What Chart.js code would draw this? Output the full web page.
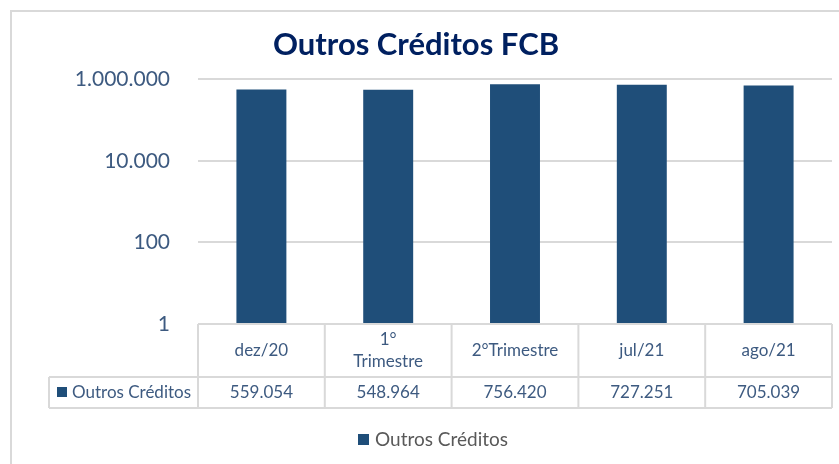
<!DOCTYPE html>
<html>
<head>
<meta charset="utf-8">
<script src="https://cdn.jsdelivr.net/npm/chart.js@4"></script>
<style>
  html, body { margin: 0; padding: 0; background: #fff; overflow: hidden; }
  #wrap { width: 839px; height: 464px; }
</style>
</head>
<body>
<div id="wrap"><canvas id="grafico" width="839" height="464"></canvas></div>
<script>
// dados do gráfico
const categorias = ["dez/20", ["1°", "Trimestre"], "2°Trimestre", "jul/21", "ago/21"];
const valores = [559054, 548964, 756420, 727251, 705039];
const ticksY = [1, 100, 10000, 1000000];
const nomeSerie = "Outros Créditos";

const corBarra = "#1f4e79";
const corTexto = "#3d5a80";
const corLinha = "#d9d9d9";
const fonte = "Lato";

// formata número no padrão brasileiro (1.000.000)
function formatar(n) {
    return String(Math.round(n)).replace(/\B(?=(\d{3})+(?!\d))/g, ".");
}

// desenha a moldura, a tabela de dados e a legenda
const tabelaPlugin = {
    id: "tabela",
    beforeDraw(chart) {
        const ctx = chart.ctx;
        ctx.save();
        ctx.strokeStyle = corLinha;
        ctx.lineWidth = 2;
        ctx.strokeRect(11, 11, 900, 500);
        ctx.restore();
    },
    afterDraw(chart) {
        const ctx = chart.ctx;
        const x = chart.scales.x;
        const area = chart.chartArea;
        const passo = (area.right - area.left) / categorias.length;
        const topo = area.bottom;
        const linha1 = topo + 53;
        const linha2 = linha1 + 31;
        const esq = 49;

        ctx.save();
        ctx.strokeStyle = corLinha;
        ctx.lineWidth = 2;
        ctx.beginPath();
        ctx.moveTo(area.left, topo); ctx.lineTo(area.right, topo);
        ctx.moveTo(esq, linha1); ctx.lineTo(area.right, linha1);
        ctx.moveTo(esq, linha2); ctx.lineTo(area.right, linha2);
        ctx.moveTo(esq, linha1); ctx.lineTo(esq, linha2);
        for (let i = 0; i <= categorias.length; i++) {
            const px = area.left + i * passo;
            ctx.moveTo(px, topo); ctx.lineTo(px, linha2);
        }
        ctx.stroke();

        ctx.fillStyle = corTexto;
        ctx.textAlign = "center";
        ctx.textBaseline = "middle";
        ctx.font = "17px " + fonte;
        categorias.forEach((cat, i) => {
            const cx = x.getPixelForValue(i);
            if (Array.isArray(cat)) {
                ctx.fillText(cat[0], cx, topo + 16);
                ctx.fillText(cat[1], cx, topo + 38);
            } else {
                ctx.fillText(cat, cx, topo + 27);
            }
            ctx.fillText(formatar(valores[i]), cx, linha1 + 16);
        });

        // rótulo da série na tabela
        ctx.fillStyle = corBarra;
        ctx.fillRect(57, linha1 + 10, 10, 10);
        ctx.fillStyle = corTexto;
        ctx.textAlign = "left";
        ctx.fillText(nomeSerie, 72, linha1 + 16);

        // legenda
        ctx.font = "19px " + fonte;
        ctx.fillStyle = "#595959";
        ctx.fillText(nomeSerie, 375, 440);
        ctx.fillStyle = corBarra;
        ctx.fillRect(358, 434, 11, 11);
        ctx.restore();
    }
};

new Chart(document.getElementById("grafico"), {
    type: "bar",
    data: {
        labels: categorias,
        datasets: [{
            label: nomeSerie,
            data: valores,
            backgroundColor: corBarra,
            borderWidth: 0,
            barPercentage: 0.394,
            categoryPercentage: 1
        }]
    },
    options: {
        responsive: false,
        animation: false,
        layout: { padding: { left: 0, right: 7, top: 0, bottom: 140 } },
        plugins: {
            legend: { display: false },
            tooltip: { enabled: false },
            title: {
                display: true,
                text: "Outros Créditos FCB",
                color: "#002060",
                font: { family: fonte, size: 31, weight: "bold" },
                padding: { top: 26, bottom: 16 }
            }
        },
        scales: {
            x: {
                display: false
            },
            y: {
                type: "logarithmic",
                min: 1,
                max: 1000000,
                afterBuildTicks(scale) {
                    scale.ticks = ticksY.map(v => ({ value: v }));
                },
                afterFit(scale) {
                    scale.width = 198;
                },
                border: { display: false },
                grid: { color: corLinha, lineWidth: 2, drawTicks: false },
                ticks: {
                    padding: 28,
                    color: corTexto,
                    font: { family: fonte, size: 21 },
                    callback: v => formatar(v)
                }
            }
        }
    },
    plugins: [tabelaPlugin]
});
</script>
</body>
</html>
